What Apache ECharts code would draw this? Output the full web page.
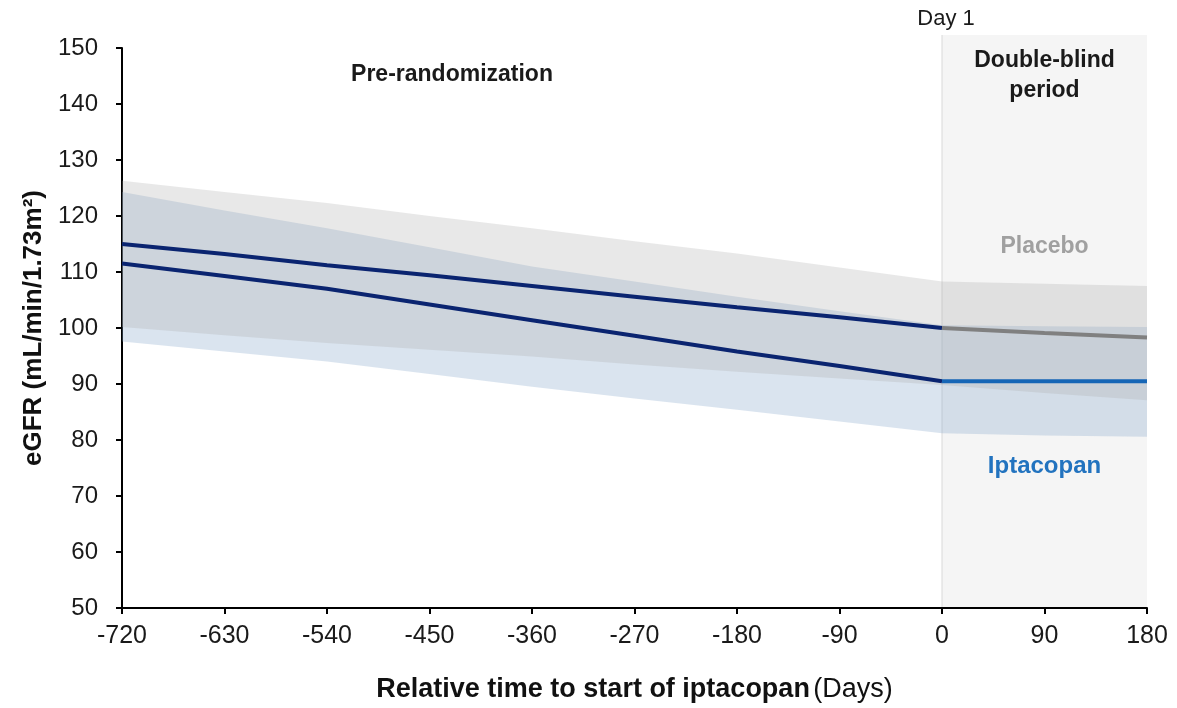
<!DOCTYPE html>
<html>
<head>
<meta charset="utf-8">
<script src="https://cdn.jsdelivr.net/npm/echarts@6/dist/echarts.min.js"></script>
<style>
html,body{margin:0;padding:0;background:#fff;}
#c{width:1177px;height:708px;}
</style>
</head>
<body>
<div id="c"></div>
<script>
// Days relative to start of iptacopan
const daysPre = [-720, -630, -540, -450, -360, -270, -180, -90, 0];
const daysAll = [-720, -630, -540, -450, -360, -270, -180, -90, 0, 90, 180];
const daysDB = [0, 90, 180];

// Mean eGFR lines
const placeboPre = [115.0, 113.2, 111.2, 109.4, 107.5, 105.6, 103.7, 101.9, 100.0];
const iptacopanPre = [111.5, 109.3, 107.0, 104.2, 101.4, 98.6, 95.8, 93.2, 90.5];
const placeboDB = [100.0, 99.1, 98.3];
const iptacopanDB = [90.5, 90.5, 90.5];

// Confidence bands
const placeboUpper = [126.3, 124.3, 122.3, 120.0, 117.8, 115.5, 113.3, 110.8, 108.3, 107.9, 107.5];
const placeboLower = [100.2, 98.7, 97.3, 96.1, 94.9, 93.5, 92.2, 91.0, 89.8, 88.4, 87.1];
const iptacopanUpper = [124.3, 121.0, 117.8, 114.4, 111.0, 108.3, 105.6, 103.0, 100.5, 100.3, 100.2];
const iptacopanLower = [97.6, 95.8, 94.0, 91.8, 89.5, 87.4, 85.4, 83.3, 81.2, 80.8, 80.6];

const pair = (xs, ys) => xs.map((x, i) => [x, ys[i]]);

const FONT = '"Liberation Sans", Arial, sans-serif';
const chart = echarts.init(document.getElementById('c'), null, {renderer: 'canvas'});

const band = (name, upper, lower, color) => ({
  name, type: 'custom', silent: true, z: 2,
  data: daysAll.map((d, i) => [d, lower[i], upper[i]]),
  encode: {x: 0, y: [1, 2]},
  renderItem: (params, api) => {
    if (params.dataIndex !== 0) return null;
    const top = daysAll.map((d, i) => api.coord([d, upper[i]]));
    const bot = daysAll.map((d, i) => api.coord([d, lower[i]])).reverse();
    return {type: 'polygon', shape: {points: top.concat(bot)}, style: {fill: color}};
  }
});
const meanLine = (name, data, color) => ({
  name, type: 'line', data, symbol: 'none', silent: true,
  lineStyle: {color, width: 4}, z: 5
});

const option = {
  animation: false,
  backgroundColor: '#fff',
  grid: {left: 122, right: 30, top: 48, bottom: 100},
  xAxis: {
    type: 'value', min: -720, max: 180, interval: 90,
    name: '{b|Relative time to start of iptacopan} {n|(Days)}',
    nameLocation: 'middle', nameGap: 68,
    nameTextStyle: {
      rich: {
        b: {fontFamily: FONT, fontSize: 27, fontWeight: 'bold', color: '#111'},
        n: {fontFamily: FONT, fontSize: 27, color: '#111'}
      }
    },
    axisLine: {show: true, onZero: false, lineStyle: {color: '#000', width: 2}},
    axisTick: {show: true, length: 6, lineStyle: {color: '#000', width: 2}},
    axisLabel: {fontFamily: FONT, fontSize: 25, color: '#1a1a1a', margin: 16},
    splitLine: {show: false}
  },
  yAxis: {
    type: 'value', min: 50, max: 150, interval: 10,
    name: 'eGFR (mL/min/1.73m²)',
    nameLocation: 'middle', nameGap: 72, nameRotate: 90,
    nameTextStyle: {fontFamily: FONT, fontSize: 26, fontWeight: 'bold', color: '#111'},
    axisLine: {show: true, onZero: false, lineStyle: {color: '#000', width: 2}},
    axisTick: {show: true, length: 6, lineStyle: {color: '#000', width: 2}},
    axisLabel: {fontFamily: FONT, fontSize: 24, color: '#1a1a1a', margin: 24},
    splitLine: {show: false}
  },
  series: [
    band('Iptacopan CI', iptacopanUpper, iptacopanLower, 'rgba(132,165,202,0.30)'),
    band('Placebo CI', placeboUpper, placeboLower, 'rgba(170,170,170,0.27)'),
    meanLine('Placebo pre', pair(daysPre, placeboPre), '#0a2470'),
    meanLine('Iptacopan pre', pair(daysPre, iptacopanPre), '#0a2470'),
    meanLine('Placebo', pair(daysDB, placeboDB), '#808080'),
    meanLine('Iptacopan', pair(daysDB, iptacopanDB), '#1666b6')
  ]
};
chart.setOption(option);

const x0 = chart.convertToPixel({xAxisIndex: 0}, 0);
const x1 = chart.convertToPixel({xAxisIndex: 0}, 180);
const yb = chart.convertToPixel({yAxisIndex: 0}, 50);
const ytop = 35;
const cx = (x0 + x1) / 2;
const txt = (text, x, y, size, weight, color) => ({
  type: 'text', x, y, z: 10, silent: true,
  style: {text, fontFamily: FONT, fontSize: size, fontWeight: weight, fill: color, align: 'center', verticalAlign: 'middle'}
});
chart.setOption({
  graphic: [
    {type: 'rect', z: -10, silent: true, shape: {x: x0, y: ytop, width: x1 - x0, height: yb - ytop}, style: {fill: '#f5f5f5'}},
    {type: 'line', z: -9, silent: true, shape: {x1: x0, y1: ytop, x2: x0, y2: yb}, style: {stroke: '#d9d9d9', lineWidth: 1}},
    txt('Day 1', x0 + 4, 19, 22, 'normal', '#1a1a1a'),
    txt('Double-blind', cx, 61, 23, 'bold', '#1a1a1a'),
    txt('period', cx, 91, 23, 'bold', '#1a1a1a'),
    txt('Placebo', cx, 247, 23, 'bold', '#a0a0a0'),
    txt('Iptacopan', cx, 466, 24, 'bold', '#2273bf'),
    txt('Pre-randomization', 452, 75, 23, 'bold', '#1a1a1a')
  ]
});
</script>
</body>
</html>
